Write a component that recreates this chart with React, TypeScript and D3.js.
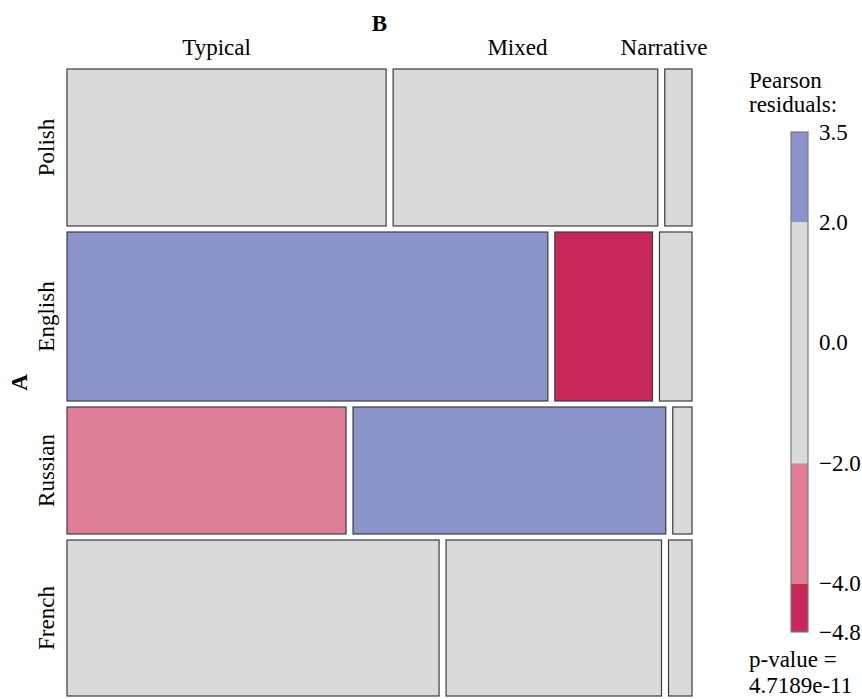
import * as d3 from 'd3'

// Mosaic plot of A (language) by B (text type), shaded by Pearson residuals
const rowsA = ['Polish', 'English', 'Russian', 'French']
const colsB = ['Typical', 'Mixed', 'Narrative']

const countsPolish = [82, 68, 7]
const countsEnglish = [133, 27, 9]
const countsRussian = [58, 65, 4]
const countsFrench = [95, 55, 6]
const counts = [countsPolish, countsEnglish, countsRussian, countsFrench]

const legendTicks = [3.5, 2.0, 0.0, -2.0, -4.0, -4.8]
const legendBands: [number, number][] = [[3.5, 2], [2, -2], [-2, -4], [-4, -4.8]]
const pValueText = '4.7189e-11'

const W = 862
const H = 699
const margin = { left: 67, right: 170, top: 69, bottom: 3 }
const rowGap = 6
const colGap = 7
const font = '"Liberation Serif", "Times New Roman", serif'
const fs = 23

const shade = (r: number) => {
  if (r > 4) return '#4a5aa8'
  if (r > 2) return '#8b94ca'
  if (r < -4) return '#c92659'
  if (r < -2) return '#de7f97'
  return '#dadada'
}

const App = () => {
  const x0 = margin.left
  const x1 = W - margin.right
  const y0 = margin.top
  const y1 = H - margin.bottom
  const fmt = d3.format('.1f')

  const rowTotals = counts.map((r) => d3.sum(r))
  const colTotals = colsB.map((_, j) => d3.sum(counts, (r) => r[j]))
  const N = d3.sum(rowTotals)

  const yScale = d3
    .scaleLinear()
    .domain([0, N])
    .range([0, y1 - y0 - rowGap * (rowsA.length - 1)])

  const rowY: number[] = []
  let acc = y0
  rowTotals.forEach((t) => {
    rowY.push(acc)
    acc += yScale(t) + rowGap
  })

  const tiles = counts.flatMap((row, i) => {
    const xs = d3
      .scaleLinear()
      .domain([0, rowTotals[i]])
      .range([0, x1 - x0 - colGap * (colsB.length - 1)])
    let cx = x0
    return row.map((c, j) => {
      const e = (rowTotals[i] * colTotals[j]) / N
      const res = (c - e) / Math.sqrt(e)
      const t = { x: cx, y: rowY[i], w: xs(c), h: yScale(rowTotals[i]), res, i, j }
      cx += xs(c) + colGap
      return t
    })
  })

  // column labels: centred between the tiles of the first and third rows,
  // kept inside the right edge of the figure
  const labelX = colsB.map((_, j) => {
    const a = tiles.find((t) => t.i === 0 && t.j === j)!
    const b = tiles.find((t) => t.i === 2 && t.j === j)!
    return ((a.x + a.w / 2) + (b.x + b.w / 2)) / 2
  })

  const legendY = d3.scaleLinear().domain([3.5, -4.8]).range([132, 632])
  const legendX = 791
  const legendW = 17

  return (
    <div style={{ position: 'absolute', left: 0, top: 0 }}>
      <svg width={W} height={H} style={{ display: 'block', background: '#fff' }} fontFamily={font}>
        {tiles.map((t) => (
          <rect
            key={`${t.i}-${t.j}`}
            x={t.x}
            y={t.y}
            width={t.w}
            height={t.h}
            fill={shade(t.res)}
            stroke="#3c3c3c"
            strokeWidth={1.2}
          />
        ))}

        <text x={(x0 + x1) / 2} y={31} fontSize={fs} fontWeight="bold" textAnchor="middle">
          B
        </text>
        {colsB.map((name, j) => (
          <text
            key={name}
            x={j === colsB.length - 1 ? Math.min(labelX[j], 664) : labelX[j]}
            y={55}
            fontSize={fs}
            textAnchor="middle"
          >
            {name}
          </text>
        ))}

        <text
          transform={`translate(27,${(y0 + y1) / 2}) rotate(-90)`}
          fontSize={fs}
          fontWeight="bold"
          textAnchor="middle"
        >
          A
        </text>
        {rowsA.map((name, i) => (
          <text
            key={name}
            transform={`translate(54,${rowY[i] + yScale(rowTotals[i]) / 2}) rotate(-90)`}
            fontSize={fs}
            textAnchor="middle"
          >
            {name}
          </text>
        ))}

        <text x={749} y={88} fontSize={fs}>
          Pearson
        </text>
        <text x={749} y={112} fontSize={fs}>
          residuals:
        </text>
        {legendBands.map(([a, b]) => (
          <rect
            key={a}
            x={legendX}
            y={legendY(a)}
            width={legendW}
            height={legendY(b) - legendY(a)}
            fill={shade((a + b) / 2)}
          />
        ))}
        <rect
          x={legendX}
          y={legendY(3.5)}
          width={legendW}
          height={legendY(-4.8) - legendY(3.5)}
          fill="none"
          stroke="#7a7a7a"
          strokeWidth={1.2}
        />
        {legendTicks.map((v) => (
          <text key={v} x={819} y={legendY(v)} fontSize={fs} dominantBaseline="central">
            {fmt(v)}
          </text>
        ))}
        <text x={749} y={667} fontSize={fs}>
          p-value =
        </text>
        <text x={749} y={693} fontSize={fs}>
          {pValueText}
        </text>
      </svg>
    </div>
  )
}

export default App
